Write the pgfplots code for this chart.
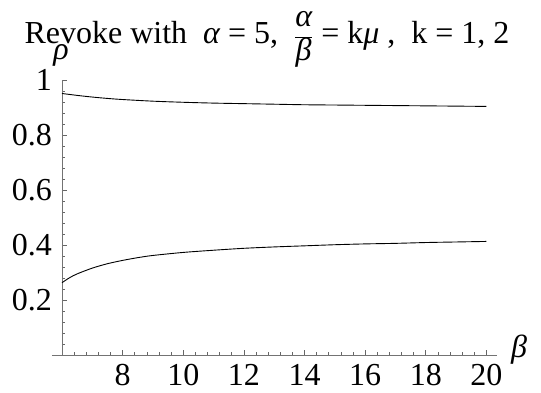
\documentclass[border=0pt]{standalone}
\usepackage{fontspec}
\setmainfont{Liberation Serif}
\usepackage{pgfplots}
\pgfplotsset{compat=1.18}

\newcommand{\bigfont}{\fontsize{32}{36}\selectfont}

\begin{document}
\begin{tikzpicture}
\useasboundingbox (-62pt,-37pt) rectangle (479pt,355pt);
\begin{axis}[
  scale only axis,
  width=435pt, height=275pt,
  xmin=6, xmax=20.35, ymin=0, ymax=1,
  axis x line=bottom, axis y line=left,
  every outer x axis line/.append style={-},
  every outer y axis line/.append style={-},
  axis line style={-, draw=black!55, line width=0.8pt},
  clip=false,
  tick align=inside,
  xtick={8,10,12,14,16,18,20},
  ytick={0.2,0.4,0.6,0.8,1},
  yticklabels={0.2,0.4,0.6,0.8,1},
  minor xtick={6.4,6.8,7.2,7.6,8.4,8.8,9.2,9.6,10.4,10.8,11.2,11.6,12.4,12.8,13.2,13.6,14.4,14.8,15.2,15.6,16.4,16.8,17.2,17.6,18.4,18.8,19.2,19.6,20.4},
  minor ytick={0.04,0.08,0.12,0.16,0.24,0.28,0.32,0.36,0.44,0.48,0.52,0.56,0.64,0.68,0.72,0.76,0.84,0.88,0.92,0.96},
  major tick length=5pt, minor tick length=3pt,
  every tick/.style={black!60, line width=0.6pt},
  /pgf/number format/assume math mode=true,
  tick label style={font=\bigfont},
  xticklabel style={anchor=base, inner sep=0pt, yshift=-30pt},
  yticklabel style={anchor=east, inner sep=0pt, xshift=-10pt},
]
% k = 1
\addplot[black, line width=0.9pt, smooth] coordinates {
  (6,0.951) (6.5,0.944) (7,0.938) (7.5,0.933) (8,0.929) (9,0.923)
  (10,0.919) (11,0.916) (12,0.914) (13,0.912) (14,0.910) (15,0.909)
  (16,0.908) (17,0.907) (18,0.906) (19,0.905) (20,0.904)
};
% k = 2
\addplot[black, line width=0.9pt, smooth] coordinates {
  (6,0.263) (6.25,0.281) (6.5,0.295) (7,0.316) (7.5,0.332) (8,0.344)
  (8.5,0.354) (9,0.362) (10,0.373) (11,0.381) (12,0.388) (13,0.393)
  (14,0.397) (15,0.401) (16,0.404) (17,0.406) (18,0.409) (19,0.411)
  (20,0.413)
};
% x axis continues a little left of the y axis
\draw[draw=black!55, line width=0.8pt] (axis cs:5.67,0) -- (axis cs:6,0);
\end{axis}
% axis names
\node[font=\bigfont\itshape, inner sep=0pt] at (-1pt,300pt) {ρ};
\node[font=\bigfont\itshape, inner sep=0pt] at (457pt,5pt) {β};
% title
\node[anchor=base, font=\bigfont, inner sep=0pt] at (205pt,312pt)
  {Revoke with\enspace{\itshape α} = 5,\enspace $\displaystyle\frac{\mbox{\itshape α}}{\mbox{\itshape β}}$ = k{\itshape μ} ,\enspace k = 1, 2};
\end{tikzpicture}
\end{document}
